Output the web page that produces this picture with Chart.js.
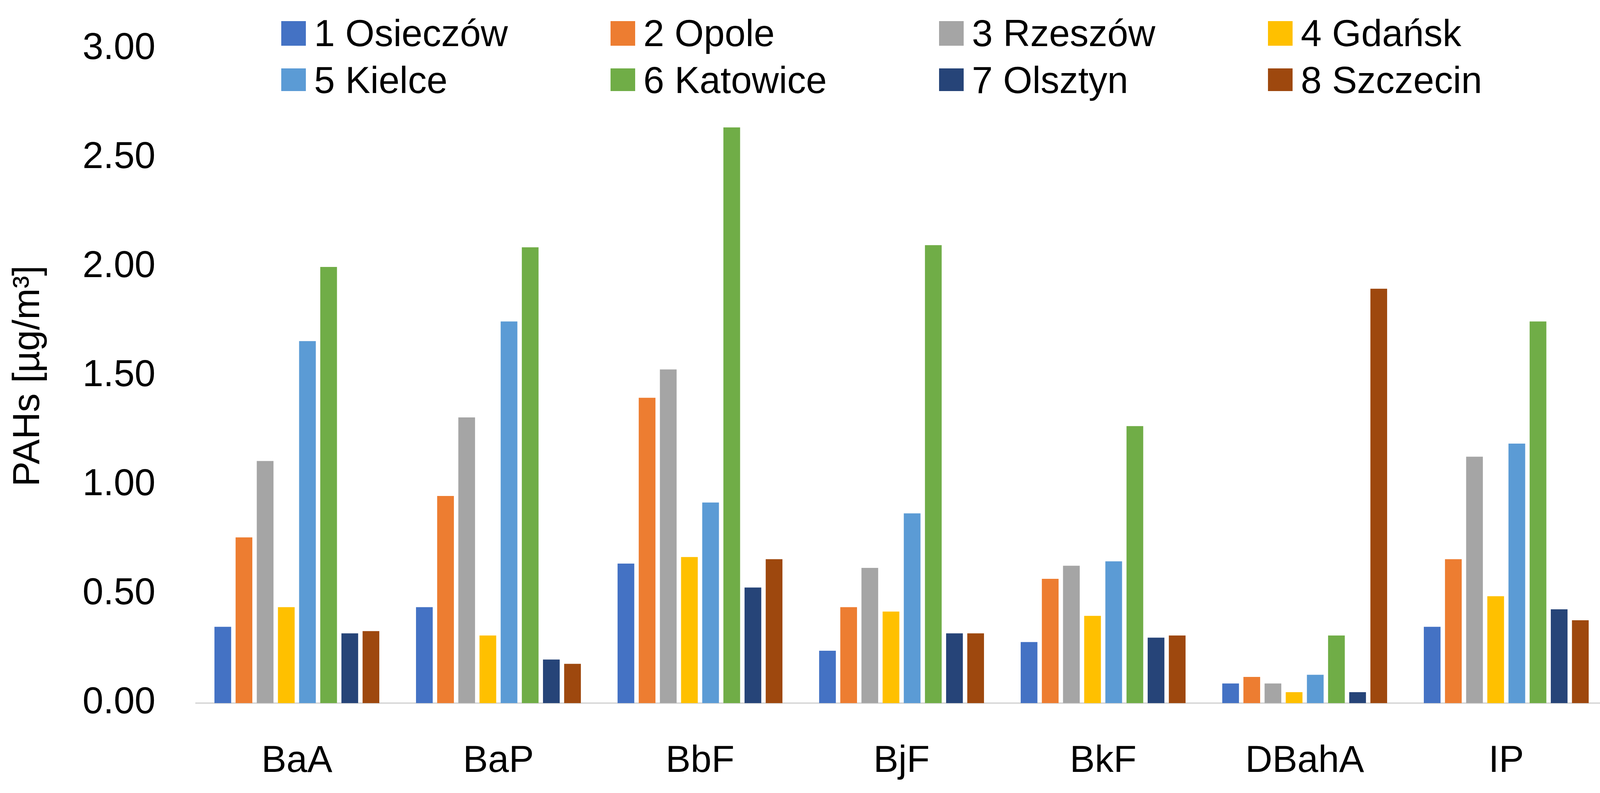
<!DOCTYPE html>
<html>
<head>
<meta charset="utf-8">
<script src="https://cdn.jsdelivr.net/npm/chart.js@4"></script>
<style>
  html, body { margin: 0; padding: 0; background: #ffffff; }
  #wrap { position: relative; width: 4141px; height: 2029px; overflow: hidden; }
  #c { position: absolute; left: 0; top: 0; }
  #legend { position: absolute; left: 0; top: 0; width: 4141px; height: 260px; pointer-events: none; }
  .lg-box { position: absolute; width: 63px; }
  .lg-text { position: absolute; font-family: 'Liberation Sans', Arial, sans-serif; font-size: 96px; line-height: 96px; color: #000; white-space: nowrap; }
</style>
</head>
<body>
<div id="wrap">
  <canvas id="c" width="4141" height="2029"></canvas>
  <div id="legend"></div>
</div>
<script>
// ---- data ----
const categories = ['BaA', 'BaP', 'BbF', 'BjF', 'BkF', 'DBahA', 'IP'];
const seriesNames = ['1 Osieczów', '2 Opole', '3 Rzeszów', '4 Gdańsk', '5 Kielce', '6 Katowice', '7 Olsztyn', '8 Szczecin'];
const seriesColors = ['#4472C4', '#ED7D31', '#A5A5A5', '#FFC000', '#5B9BD5', '#70AD47', '#264478', '#9E480E'];
const osieczow = [0.35, 0.44, 0.64, 0.24, 0.28, 0.09, 0.35];
const opole    = [0.76, 0.95, 1.40, 0.44, 0.57, 0.12, 0.66];
const rzeszow  = [1.11, 1.31, 1.53, 0.62, 0.63, 0.09, 1.13];
const gdansk   = [0.44, 0.31, 0.67, 0.42, 0.40, 0.05, 0.49];
const kielce   = [1.66, 1.75, 0.92, 0.87, 0.65, 0.13, 1.19];
const katowice = [2.00, 2.09, 2.64, 2.10, 1.27, 0.31, 1.75];
const olsztyn  = [0.32, 0.20, 0.53, 0.32, 0.30, 0.05, 0.43];
const szczecin = [0.33, 0.18, 0.66, 0.32, 0.31, 1.90, 0.38];
const seriesValues = [osieczow, opole, rzeszow, gdansk, kielce, katowice, olsztyn, szczecin];
const yTickLabels = ['0.00', '0.50', '1.00', '1.50', '2.00', '2.50', '3.00'];
const yAxisTitle = 'PAHs [µg/m³]';

const FONT = "'Liberation Sans', Arial, sans-serif";

const datasets = seriesNames.map((name, i) => ({
  label: name,
  data: seriesValues[i],
  backgroundColor: seriesColors[i],
  borderWidth: 0,
  categoryPercentage: 0.84,
  barPercentage: 0.79
}));

new Chart(document.getElementById('c'), {
  type: 'bar',
  data: { labels: categories, datasets: datasets },
  options: {
    responsive: false,
    animation: false,
    devicePixelRatio: 1,
    layout: { padding: { left: 16, right: 27, top: 125, bottom: 0 } },
    plugins: {
      legend: { display: false },
      tooltip: { enabled: false }
    },
    scales: {
      x: {
        grid: { display: false, drawTicks: false },
        border: { display: true, color: '#d9d9d9', width: 4 },
        ticks: { color: '#000', font: { family: FONT, size: 96 }, padding: 92 },
        afterFit: (s) => { s.height = 2029 - 1799; s.paddingLeft = 0; s.paddingRight = 0; }
      },
      y: {
        min: 0,
        max: 3,
        grid: { display: false, drawTicks: false },
        border: { display: false },
        ticks: {
          stepSize: 0.5,
          color: '#000',
          font: { family: FONT, size: 96 },
          padding: 104,
          callback: (v, i) => yTickLabels[i] !== undefined ? yTickLabels[i] : v.toFixed(2)
        },
        title: {
          display: true,
          text: yAxisTitle,
          color: '#000',
          font: { family: FONT, size: 96 },
          padding: { top: 0, bottom: 0 }
        },
        afterFit: (s) => { s.width = 486; s.paddingTop = 0; s.paddingBottom = 0; }
      }
    }
  }
});

// ---- legend (grid of 4 columns x 2 rows) ----
const legend = document.getElementById('legend');
const colLeft = [720, 1563, 2404, 3246];
const rowBoxTop = [54, 175];
const rowBoxHeight = [63, 58];
const rowTextTop = [37, 157];
seriesNames.forEach((name, i) => {
  const col = i % 4, row = Math.floor(i / 4);
  const box = document.createElement('div');
  box.className = 'lg-box';
  box.style.left = colLeft[col] + 'px';
  box.style.top = rowBoxTop[row] + 'px';
  box.style.height = rowBoxHeight[row] + 'px';
  box.style.background = seriesColors[i];
  legend.appendChild(box);
  const t = document.createElement('div');
  t.className = 'lg-text';
  t.style.left = (colLeft[col] + 84) + 'px';
  t.style.top = rowTextTop[row] + 'px';
  t.textContent = name;
  legend.appendChild(t);
});
</script>
</body>
</html>
